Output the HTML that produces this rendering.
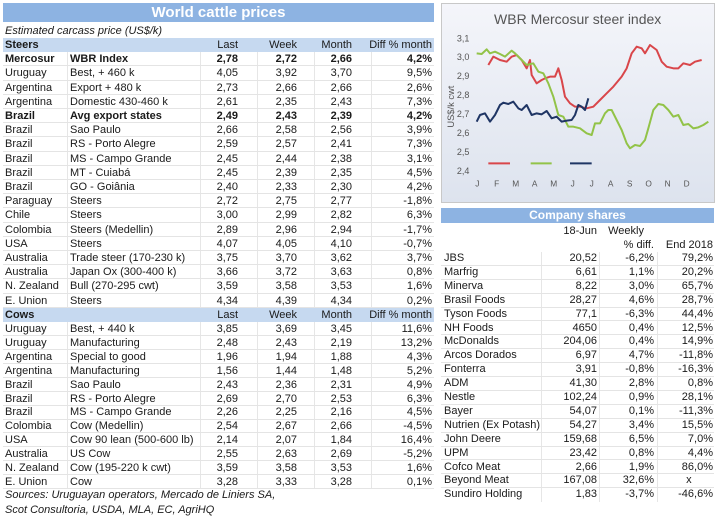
<!DOCTYPE html><html><head><style>
body{margin:0;width:719px;height:519px;background:#fff;position:relative;overflow:hidden;font-family:"Liberation Sans",sans-serif;font-size:11px;color:#1a1a1a}
.r{position:absolute;left:3px;width:431px;height:14.2px;line-height:14.2px;border-bottom:1px solid #e4e4e4;box-sizing:border-box}
.r span{position:absolute;top:0;white-space:nowrap}
.a{left:2px}.b{left:67px}.c{right:196px}.d{right:137px}.e{right:82px}.f{right:2px}
.h{background:#c6d9f0;border-bottom:none}
.bd{font-weight:bold}
.q{position:absolute;left:441px;width:273px;height:13.9px;line-height:13.9px;border-bottom:1px solid #e4e4e4;box-sizing:border-box}
.q span{position:absolute;top:0;white-space:nowrap}
.n{left:3px}.x{right:117px}.y{right:60px}.z{right:1px}
.vl{position:absolute;width:1px;background:#e6e6e6}
</style></head><body>
<div style="position:absolute;left:3px;top:3px;width:431px;height:19px;background:#8db3e2;color:#fff;font-weight:bold;font-size:15px;text-align:center;line-height:19px">World cattle prices</div>
<div style="position:absolute;left:5px;top:24px;font-style:italic;line-height:14px">Estimated carcass price (US$/k)</div>
<div class="vl" style="left:67px;top:52px;height:256px"></div>
<div class="vl" style="left:200px;top:52px;height:256px"></div>
<div class="vl" style="left:257px;top:52px;height:256px"></div>
<div class="vl" style="left:314px;top:52px;height:256px"></div>
<div class="vl" style="left:371px;top:52px;height:256px"></div>
<div class="vl" style="left:67px;top:322px;height:167px"></div>
<div class="vl" style="left:200px;top:322px;height:167px"></div>
<div class="vl" style="left:257px;top:322px;height:167px"></div>
<div class="vl" style="left:314px;top:322px;height:167px"></div>
<div class="vl" style="left:371px;top:322px;height:167px"></div>
<div class="r h" style="top:38px"><span class="a bd">Steers</span><span class="c">Last</span><span class="d">Week</span><span class="e">Month</span><span class="f">Diff % month</span></div>
<div class="r bd" style="top:52.2px"><span class="a">Mercosur</span><span class="b">WBR Index</span><span class="c">2,78</span><span class="d">2,72</span><span class="e">2,66</span><span class="f">4,2%</span></div>
<div class="r" style="top:66.4px"><span class="a">Uruguay</span><span class="b">Best, + 460 k</span><span class="c">4,05</span><span class="d">3,92</span><span class="e">3,70</span><span class="f">9,5%</span></div>
<div class="r" style="top:80.6px"><span class="a">Argentina</span><span class="b">Export + 480 k</span><span class="c">2,73</span><span class="d">2,66</span><span class="e">2,66</span><span class="f">2,6%</span></div>
<div class="r" style="top:94.8px"><span class="a">Argentina</span><span class="b">Domestic 430-460 k</span><span class="c">2,61</span><span class="d">2,35</span><span class="e">2,43</span><span class="f">7,3%</span></div>
<div class="r bd" style="top:109px"><span class="a">Brazil</span><span class="b">Avg export states</span><span class="c">2,49</span><span class="d">2,43</span><span class="e">2,39</span><span class="f">4,2%</span></div>
<div class="r" style="top:123.2px"><span class="a">Brazil</span><span class="b">Sao Paulo</span><span class="c">2,66</span><span class="d">2,58</span><span class="e">2,56</span><span class="f">3,9%</span></div>
<div class="r" style="top:137.4px"><span class="a">Brazil</span><span class="b">RS - Porto Alegre</span><span class="c">2,59</span><span class="d">2,57</span><span class="e">2,41</span><span class="f">7,3%</span></div>
<div class="r" style="top:151.6px"><span class="a">Brazil</span><span class="b">MS - Campo Grande</span><span class="c">2,45</span><span class="d">2,44</span><span class="e">2,38</span><span class="f">3,1%</span></div>
<div class="r" style="top:165.8px"><span class="a">Brazil</span><span class="b">MT - Cuiabá</span><span class="c">2,45</span><span class="d">2,39</span><span class="e">2,35</span><span class="f">4,5%</span></div>
<div class="r" style="top:180px"><span class="a">Brazil</span><span class="b">GO - Goiânia</span><span class="c">2,40</span><span class="d">2,33</span><span class="e">2,30</span><span class="f">4,2%</span></div>
<div class="r" style="top:194.2px"><span class="a">Paraguay</span><span class="b">Steers</span><span class="c">2,72</span><span class="d">2,75</span><span class="e">2,77</span><span class="f">-1,8%</span></div>
<div class="r" style="top:208.4px"><span class="a">Chile</span><span class="b">Steers</span><span class="c">3,00</span><span class="d">2,99</span><span class="e">2,82</span><span class="f">6,3%</span></div>
<div class="r" style="top:222.6px"><span class="a">Colombia</span><span class="b">Steers (Medellin)</span><span class="c">2,89</span><span class="d">2,96</span><span class="e">2,94</span><span class="f">-1,7%</span></div>
<div class="r" style="top:236.8px"><span class="a">USA</span><span class="b">Steers</span><span class="c">4,07</span><span class="d">4,05</span><span class="e">4,10</span><span class="f">-0,7%</span></div>
<div class="r" style="top:251px"><span class="a">Australia</span><span class="b">Trade steer (170-230 k)</span><span class="c">3,75</span><span class="d">3,70</span><span class="e">3,62</span><span class="f">3,7%</span></div>
<div class="r" style="top:265.2px"><span class="a">Australia</span><span class="b">Japan Ox (300-400 k)</span><span class="c">3,66</span><span class="d">3,72</span><span class="e">3,63</span><span class="f">0,8%</span></div>
<div class="r" style="top:279.4px"><span class="a">N. Zealand</span><span class="b">Bull (270-295 cwt)</span><span class="c">3,59</span><span class="d">3,58</span><span class="e">3,53</span><span class="f">1,6%</span></div>
<div class="r" style="top:293.6px"><span class="a">E. Union</span><span class="b">Steers</span><span class="c">4,34</span><span class="d">4,39</span><span class="e">4,34</span><span class="f">0,2%</span></div>
<div class="r h" style="top:308px"><span class="a bd">Cows</span><span class="c">Last</span><span class="d">Week</span><span class="e">Month</span><span class="f">Diff % month</span></div>
<div class="r" style="top:322px"><span class="a">Uruguay</span><span class="b">Best, + 440 k</span><span class="c">3,85</span><span class="d">3,69</span><span class="e">3,45</span><span class="f">11,6%</span></div>
<div class="r" style="top:335.9px"><span class="a">Uruguay</span><span class="b">Manufacturing</span><span class="c">2,48</span><span class="d">2,43</span><span class="e">2,19</span><span class="f">13,2%</span></div>
<div class="r" style="top:349.8px"><span class="a">Argentina</span><span class="b">Special to good</span><span class="c">1,96</span><span class="d">1,94</span><span class="e">1,88</span><span class="f">4,3%</span></div>
<div class="r" style="top:363.7px"><span class="a">Argentina</span><span class="b">Manufacturing</span><span class="c">1,56</span><span class="d">1,44</span><span class="e">1,48</span><span class="f">5,2%</span></div>
<div class="r" style="top:377.6px"><span class="a">Brazil</span><span class="b">Sao Paulo</span><span class="c">2,43</span><span class="d">2,36</span><span class="e">2,31</span><span class="f">4,9%</span></div>
<div class="r" style="top:391.5px"><span class="a">Brazil</span><span class="b">RS - Porto Alegre</span><span class="c">2,69</span><span class="d">2,70</span><span class="e">2,53</span><span class="f">6,3%</span></div>
<div class="r" style="top:405.4px"><span class="a">Brazil</span><span class="b">MS - Campo Grande</span><span class="c">2,26</span><span class="d">2,25</span><span class="e">2,16</span><span class="f">4,5%</span></div>
<div class="r" style="top:419.3px"><span class="a">Colombia</span><span class="b">Cow (Medellin)</span><span class="c">2,54</span><span class="d">2,67</span><span class="e">2,66</span><span class="f">-4,5%</span></div>
<div class="r" style="top:433.2px"><span class="a">USA</span><span class="b">Cow 90 lean (500-600 lb)</span><span class="c">2,14</span><span class="d">2,07</span><span class="e">1,84</span><span class="f">16,4%</span></div>
<div class="r" style="top:447.1px"><span class="a">Australia</span><span class="b">US Cow</span><span class="c">2,55</span><span class="d">2,63</span><span class="e">2,69</span><span class="f">-5,2%</span></div>
<div class="r" style="top:461px"><span class="a">N. Zealand</span><span class="b">Cow (195-220 k cwt)</span><span class="c">3,59</span><span class="d">3,58</span><span class="e">3,53</span><span class="f">1,6%</span></div>
<div class="r" style="top:474.9px"><span class="a">E. Union</span><span class="b">Cow</span><span class="c">3,28</span><span class="d">3,33</span><span class="e">3,28</span><span class="f">0,1%</span></div>
<div style="position:absolute;left:5px;top:488px;font-style:italic;line-height:15px">Sources: Uruguayan operators, Mercado de Liniers SA,<br>Scot Consultoria, USDA, MLA, EC, AgriHQ</div>

<div style="position:absolute;left:441px;top:3px;width:272px;height:198px;border:1px solid #c8c8c8;background:linear-gradient(#f4f5fa,#dde3ee)"></div>
<svg style="position:absolute;left:440px;top:0" width="279" height="200" viewBox="0 0 837 600">
<text x="413" y="72" font-size="42" fill="#555" text-anchor="middle" font-family="Liberation Sans">WBR Mercosur steer index</text>
<g font-size="27" fill="#555" font-family="Liberation Sans" text-anchor="end">
<text x="88" y="124">3,1</text><text x="88" y="180">3,0</text><text x="88" y="237">2,9</text><text x="88" y="294">2,8</text><text x="88" y="351">2,7</text><text x="88" y="408">2,6</text><text x="88" y="465">2,5</text><text x="88" y="522">2,4</text></g>
<text transform="translate(42,320) rotate(-90)" font-size="28" fill="#555" text-anchor="middle" font-family="Liberation Sans">US$/k cwt</text>
<g font-size="25" fill="#555" font-family="Liberation Sans" text-anchor="middle">
<text x="112" y="560">J</text><text x="170" y="560">F</text><text x="227" y="560">M</text><text x="284" y="560">A</text><text x="341" y="560">M</text><text x="398" y="560">J</text><text x="455" y="560">J</text><text x="512" y="560">A</text><text x="569" y="560">S</text><text x="626" y="560">O</text><text x="683" y="560">N</text><text x="740" y="560">D</text></g>
<g fill="none" stroke-width="6" stroke-linejoin="round">
<polyline stroke="#d9464a" points="145,195 160,170 180,180 200,185 215,170 230,165 245,180 260,205 270,180 275,225 290,250 305,240 315,235 330,230 345,230 355,205 365,240 375,290 390,310 405,320 420,320 440,325 460,320 480,300 500,280 520,260 545,230 560,205 575,160 590,140 605,145 615,160 630,135 650,150 665,185 680,200 700,205 715,205 730,190 750,195 765,185 785,180"/>
<polyline stroke="#92c348" points="110,160 125,162 140,148 150,160 165,155 180,162 195,170 215,152 225,160 245,180 260,195 280,190 295,215 310,220 325,250 340,290 355,345 370,350 385,380 400,380 420,385 440,400 455,405 465,370 480,370 495,340 505,330 515,330 530,360 545,390 560,430 570,445 585,435 600,438 615,420 625,385 640,330 655,312 670,315 685,330 700,350 715,345 730,375 745,372 760,385 775,382 790,375 805,365"/>
<polyline stroke="#1f3564" points="110,365 120,345 135,340 150,365 165,345 180,315 190,308 205,312 220,305 235,325 245,330 260,315 275,345 290,340 305,343 320,333 335,355 350,350 365,365 380,362 395,360 405,345 415,315 425,320 435,330 445,295"/>
<line x1="145" y1="490" x2="210" y2="490" stroke="#d9464a" stroke-width="6"/>
<line x1="272" y1="490" x2="335" y2="490" stroke="#92c348" stroke-width="6"/>
<line x1="390" y1="490" x2="455" y2="490" stroke="#1f3564" stroke-width="6"/>
</g></svg>

<div style="position:absolute;left:441px;top:208px;width:273px;height:15px;background:#8db3e2;color:#fff;font-weight:bold;font-size:12px;text-align:center;line-height:15px">Company shares</div>
<div style="position:absolute;left:441px;top:223px;width:273px;height:29px;background:#fff"></div>
<span style="position:absolute;right:122px;top:224px;line-height:14px">18-Jun</span>
<span style="position:absolute;right:75px;top:224px;line-height:14px">Weekly</span>
<span style="position:absolute;right:65px;top:238px;line-height:14px">% diff.</span>
<span style="position:absolute;right:6px;top:238px;line-height:14px">End 2018</span>
<div class="vl" style="left:541px;top:252px;height:250px"></div>
<div class="vl" style="left:599px;top:252px;height:250px"></div>
<div class="vl" style="left:657px;top:252px;height:250px"></div>
<div class="q" style="top:252px"><span class="n">JBS</span><span class="x">20,52</span><span class="y">-6,2%</span><span class="z">79,2%</span></div>
<div class="q" style="top:265.9px"><span class="n">Marfrig</span><span class="x">6,61</span><span class="y">1,1%</span><span class="z">20,2%</span></div>
<div class="q" style="top:279.8px"><span class="n">Minerva</span><span class="x">8,22</span><span class="y">3,0%</span><span class="z">65,7%</span></div>
<div class="q" style="top:293.7px"><span class="n">Brasil Foods</span><span class="x">28,27</span><span class="y">4,6%</span><span class="z">28,7%</span></div>
<div class="q" style="top:307.6px"><span class="n">Tyson Foods</span><span class="x">77,1</span><span class="y">-6,3%</span><span class="z">44,4%</span></div>
<div class="q" style="top:321.5px"><span class="n">NH Foods</span><span class="x">4650</span><span class="y">0,4%</span><span class="z">12,5%</span></div>
<div class="q" style="top:335.4px"><span class="n">McDonalds</span><span class="x">204,06</span><span class="y">0,4%</span><span class="z">14,9%</span></div>
<div class="q" style="top:349.3px"><span class="n">Arcos Dorados</span><span class="x">6,97</span><span class="y">4,7%</span><span class="z">-11,8%</span></div>
<div class="q" style="top:363.2px"><span class="n">Fonterra</span><span class="x">3,91</span><span class="y">-0,8%</span><span class="z">-16,3%</span></div>
<div class="q" style="top:377.1px"><span class="n">ADM</span><span class="x">41,30</span><span class="y">2,8%</span><span class="z">0,8%</span></div>
<div class="q" style="top:391px"><span class="n">Nestle</span><span class="x">102,24</span><span class="y">0,9%</span><span class="z">28,1%</span></div>
<div class="q" style="top:404.9px"><span class="n">Bayer</span><span class="x">54,07</span><span class="y">0,1%</span><span class="z">-11,3%</span></div>
<div class="q" style="top:418.8px"><span class="n">Nutrien (Ex Potash)</span><span class="x">54,27</span><span class="y">3,4%</span><span class="z">15,5%</span></div>
<div class="q" style="top:432.7px"><span class="n">John Deere</span><span class="x">159,68</span><span class="y">6,5%</span><span class="z">7,0%</span></div>
<div class="q" style="top:446.6px"><span class="n">UPM</span><span class="x">23,42</span><span class="y">0,8%</span><span class="z">4,4%</span></div>
<div class="q" style="top:460.5px"><span class="n">Cofco Meat</span><span class="x">2,66</span><span class="y">1,9%</span><span class="z">86,0%</span></div>
<div class="q" style="top:474.4px"><span class="n">Beyond Meat</span><span class="x">167,08</span><span class="y">32,6%</span><span class="z">x&nbsp;&nbsp;&nbsp;&nbsp;&nbsp;&nbsp;&nbsp;</span></div>
<div class="q" style="top:488.3px;border-bottom:none"><span class="n">Sundiro Holding</span><span class="x">1,83</span><span class="y">-3,7%</span><span class="z">-46,6%</span></div>
</body></html>
